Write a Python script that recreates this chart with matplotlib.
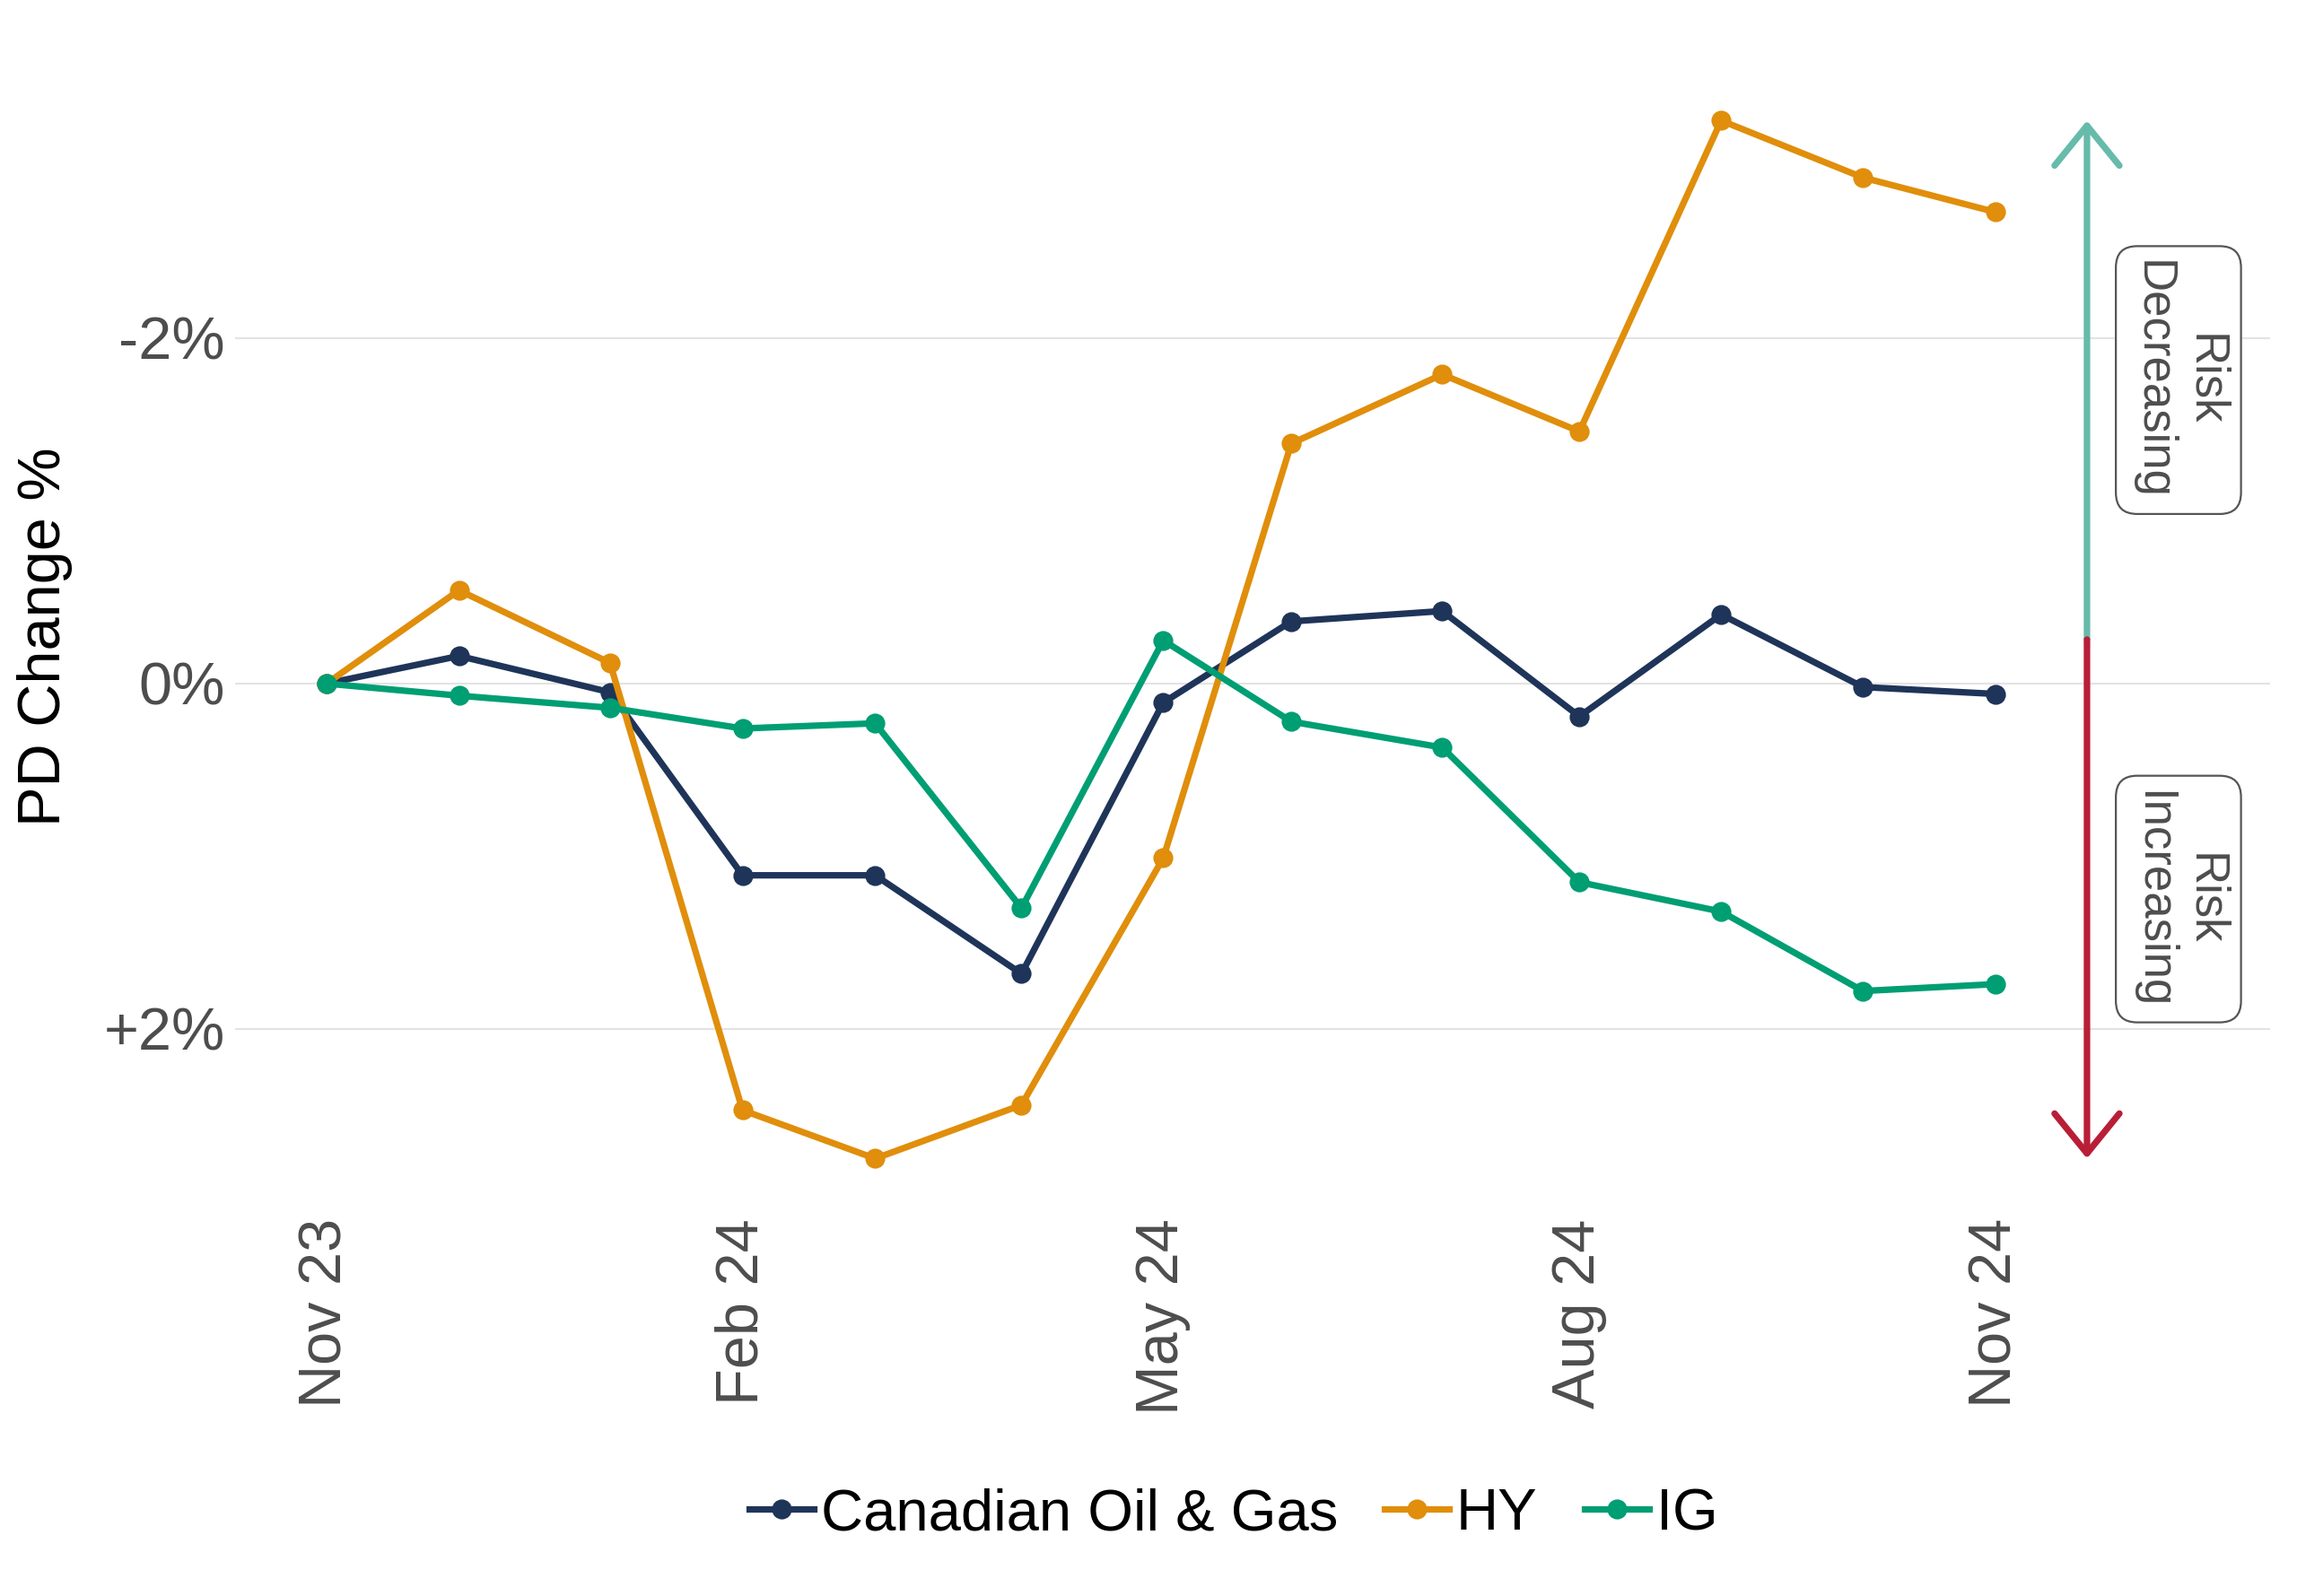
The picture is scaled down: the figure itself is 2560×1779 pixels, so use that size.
import datetime as dt
import matplotlib
matplotlib.use("Agg")
import matplotlib.pyplot as plt

# month-end observation dates (last business day)
dates = ["2023-11-30", "2023-12-29", "2024-01-31", "2024-02-29", "2024-03-29",
         "2024-04-30", "2024-05-31", "2024-06-28", "2024-07-31", "2024-08-30",
         "2024-09-30", "2024-10-31", "2024-11-29"]

# PD change in %
canadian_oil_gas = [0.00, -0.16, 0.05, 1.11, 1.11, 1.68, 0.11, -0.36, -0.42, 0.19, -0.40, 0.02, 0.06]
hy = [0.00, -0.54, -0.12, 2.47, 2.75, 2.44, 1.01, -1.39, -1.79, -1.46, -3.26, -2.93, -2.73]
ig = [0.00, 0.07, 0.14, 0.26, 0.23, 1.30, -0.25, 0.22, 0.37, 1.15, 1.32, 1.78, 1.74]

series_names = ["Canadian Oil & Gas", "HY", "IG"]
series_colors = ["#1F3459", "#E08E0B", "#009E73"]

tick_idx = [0, 3, 6, 9, 12]
tick_labels = ["Nov 23", "Feb 24", "May 24", "Aug 24", "Nov 24"]
y_ticks = [-2, 0, 2]
y_tick_labels = ["-2%", "0%", "+2%"]

arrow_up_color = "#66BBAA"
arrow_down_color = "#B91E37"
text_grey = "#4D4D4D"

plt.rcParams['font.family'] = ['Liberation Sans', 'DejaVu Sans']

x = [dt.datetime.strptime(d, "%Y-%m-%d") for d in dates]

fig = plt.figure(figsize=(12.8, 8.895), dpi=200)
ax = fig.add_axes([0.1023, 0.2451, 0.8859, 0.7116])

for vals, name, col in zip([canadian_oil_gas, hy, ig], series_names, series_colors):
    ax.plot(x, vals, color=col, lw=2.6, marker='o', markersize=7,
            label=name, zorder=3, solid_joinstyle='round')

# axis limits: some room right of the last point for the risk arrow
ax.set_xlim(x[0] - dt.timedelta(days=20), x[0] + dt.timedelta(days=425))
ax.set_ylim(3.018, -3.558)   # inverted: falling PD goes up

ax.set_xticks([x[i] for i in tick_idx])
ax.set_xticklabels(tick_labels, rotation=90, ha='center', va='top')
ax.set_yticks(y_ticks)
ax.set_yticklabels(y_tick_labels)
ax.tick_params(axis='both', length=0, labelsize=24, labelcolor=text_grey)
ax.tick_params(axis='x', pad=5.5)
ax.tick_params(axis='y', pad=4)

ax.grid(axis='y', color='#E3E3E3', lw=0.75)
ax.grid(axis='x', visible=False)
for s in ax.spines.values():
    s.set_visible(False)

# risk arrow spanning the full data range
all_vals = canadian_oil_gas + hy + ig
lo, hi = min(all_vals), max(all_vals)
mid = (lo + hi) / 2
arrow_x = x[-1] + dt.timedelta(days=20)
label_x = x[-1] + dt.timedelta(days=40)

for end, col in [(lo, arrow_up_color), (hi, arrow_down_color)]:
    ax.annotate("", xy=(arrow_x, end), xytext=(arrow_x, mid),
                arrowprops=dict(arrowstyle='->,head_length=1.6,head_width=1.3',
                                mutation_scale=10, lw=2.6, color=col,
                                shrinkA=0, shrinkB=0), zorder=4)

box = dict(boxstyle='round,pad=0.3,rounding_size=0.45', fc='white',
           ec='#555555', lw=0.8)
ax.text(label_x, (lo + mid) / 2, "Risk\nDecreasing", rotation=-90, ha='center',
        va='center', multialignment='center', fontsize=19, color=text_grey, bbox=box)
ax.text(label_x, (hi + mid) / 2, "Risk\nIncreasing", rotation=-90, ha='center',
        va='center', multialignment='center', fontsize=19, color=text_grey, bbox=box)

fig.text(0.0195, 0.6009, "PD Change %", rotation=90, ha='center', va='center',
         fontsize=24, color='black')

fig.legend(loc='center', bbox_to_anchor=(0.537, 0.051), ncol=3, frameon=False,
           fontsize=23.5, handlelength=1.1, handletextpad=0.12, columnspacing=0.8)

fig.savefig("out.png", dpi=200, facecolor='white')
